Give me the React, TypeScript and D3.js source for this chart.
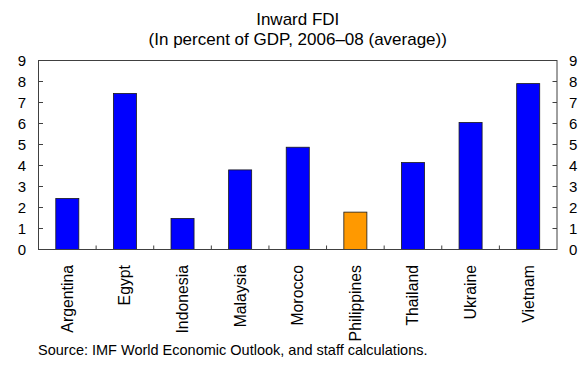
import React from "react";
import * as d3 from "d3";

const categories = ["Argentina", "Egypt", "Indonesia", "Malaysia", "Morocco", "Philippines", "Thailand", "Ukraine", "Vietnam"];
const values = [2.43, 7.43, 1.48, 3.79, 4.87, 1.78, 4.14, 6.05, 7.9];
const highlight = ["Philippines"];
const yTicks = [0, 1, 2, 3, 4, 5, 6, 7, 8, 9];
const titleLines = ["Inward FDI", "(In percent of GDP, 2006–08 (average))"];
const sourceText = "Source: IMF World Economic Outlook, and staff calculations.";

const W = 583;
const H = 381;
const M = { left: 38.5, right: 557, top: 60.5, bottom: 249.5 };
const FONT = "'Liberation Sans', Arial, sans-serif";

export default function App() {
  const xb = d3.scaleBand<string>().domain(categories).range([M.left, M.right]);
  const y = d3.scaleLinear().domain([0, 9]).range([M.bottom, M.top]);
  const cx = (c: string) => (xb(c) as number) + xb.bandwidth() / 2;
  const barW = xb.bandwidth() * 0.4;
  const axisColor = "#404040";

  return (
    <svg width={W} height={H} style={{ position: "absolute", left: 0, top: 0, background: "#fff" }} fontFamily={FONT}>
      <rect x={0} y={0} width={W} height={H} fill="#fff" />
      {titleLines.map((t, i) => (
        <text key={t} x={(M.left + M.right) / 2} y={25 + i * 20} textAnchor="middle" fontSize={17} fill="#000">
          {t}
        </text>
      ))}
      {categories.map((c, i) => (
        <rect
          key={c}
          x={cx(c) - barW / 2}
          y={y(values[i])}
          width={barW}
          height={y(0) - y(values[i])}
          fill={highlight.includes(c) ? "#FF9900" : "#0000FF"}
          stroke="#1a1a1a"
          strokeWidth={0.8}
        />
      ))}
      <rect x={M.left} y={M.top} width={M.right - M.left} height={M.bottom - M.top} fill="none" stroke={axisColor} strokeWidth={1} />
      {yTicks.map((t) => (
        <g key={t}>
          <line x1={M.left} x2={M.left + 4.5} y1={y(t)} y2={y(t)} stroke={axisColor} />
          <line x1={M.right - 4.5} x2={M.right} y1={y(t)} y2={y(t)} stroke={axisColor} />
          <text x={26} y={y(t) + 5.3} textAnchor="end" fontSize={15} fill="#000">{t}</text>
          <text x={569} y={y(t) + 5.3} textAnchor="start" fontSize={15} fill="#000">{t}</text>
        </g>
      ))}
      {categories.slice(1).map((c) => (
        <line key={c} x1={xb(c) as number} x2={xb(c) as number} y1={M.bottom} y2={M.bottom - 4} stroke={axisColor} />
      ))}
      {categories.map((c) => (
        <text
          key={c}
          transform={`translate(${cx(c) + 5.5},${265}) rotate(-90)`}
          textAnchor="end"
          fontSize={15.8}
          fill="#000"
        >
          {c}
        </text>
      ))}
      <text x={38} y={355} fontSize={14.5} fill="#000">{sourceText}</text>
    </svg>
  );
}
